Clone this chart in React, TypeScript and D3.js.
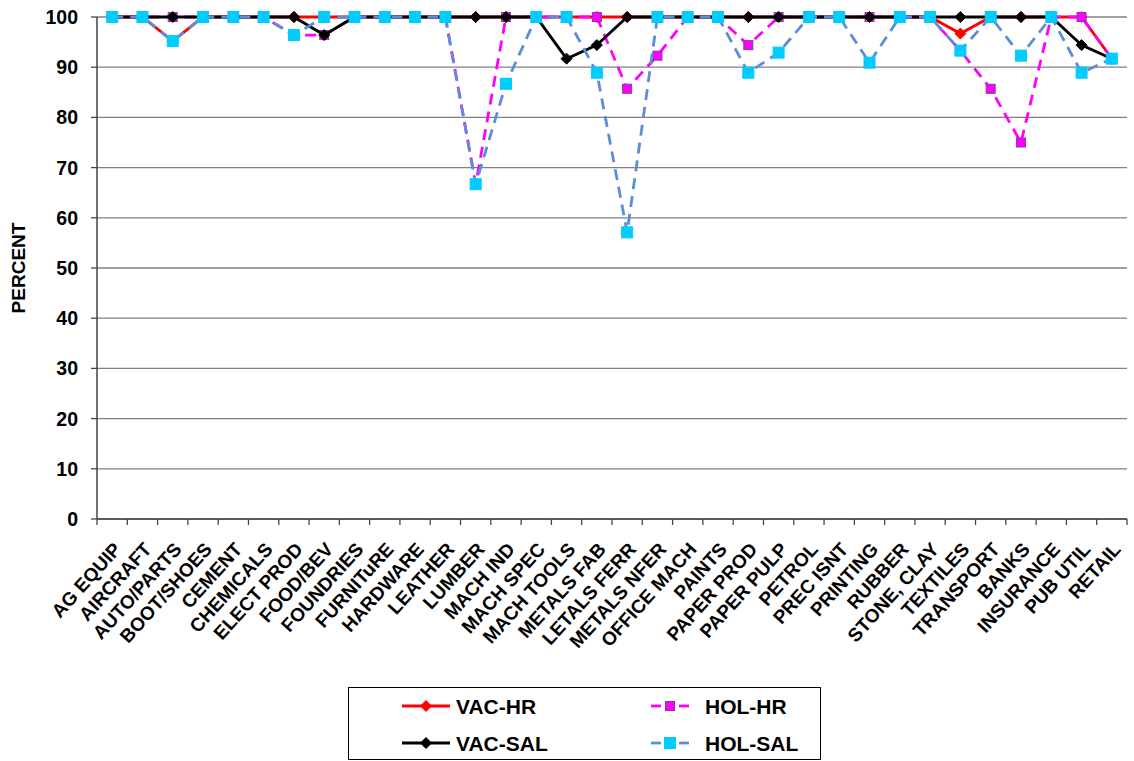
import React from "react";
import * as d3 from "d3";

const categories = [
  "AG EQUIP", "AIRCRAFT", "AUTO/PARTS", "BOOT/SHOES", "CEMENT", "CHEMICALS",
  "ELECT PROD", "FOOD/BEV", "FOUNDRIES", "FURNITuRE", "HARDWARE", "LEATHER",
  "LUMBER", "MACH IND", "MACH SPEC", "MACH TOOLS", "METALS FAB", "LETALS FERR",
  "METALS NFER", "OFFICE MACH", "PAINTS", "PAPER PROD", "PAPER PULP", "PETROL",
  "PREC ISNT", "PRINTING", "RUBBER", "STONE, CLAY", "TEXTILES", "TRANSPORT",
  "BANKS", "INSURANCE", "PUB UTIL", "RETAIL",
];

const vacHr = [
  100, 100, 95.2, 100, 100, 100, 100, 100, 100, 100, 100, 100,
  100, 100, 100, 100, 100, 100, 100, 100, 100, 100, 100, 100,
  100, 100, 100, 100, 96.7, 100, 100, 100, 100, 91.7,
];
const holHr = [
  100, 100, 100, 100, 100, 100, 96.4, 96.4, 100, 100, 100, 100,
  66.7, 100, 100, 100, 100, 85.7, 92.3, 100, 100, 94.4, 100, 100,
  100, 100, 100, 100, 93.3, 85.7, 75, 100, 100, 91.7,
];
const vacSal = [
  100, 100, 100, 100, 100, 100, 100, 96.4, 100, 100, 100, 100,
  100, 100, 100, 91.7, 94.4, 100, 100, 100, 100, 100, 100, 100,
  100, 100, 100, 100, 100, 100, 100, 100, 94.4, 91.7,
];
const holSal = [
  100, 100, 95.2, 100, 100, 100, 96.4, 100, 100, 100, 100, 100,
  66.7, 86.7, 100, 100, 88.9, 57.1, 100, 100, 100, 88.9, 92.9, 100,
  100, 90.9, 100, 100, 93.3, 100, 92.3, 100, 88.9, 91.7,
];

const yTicks = [0, 10, 20, 30, 40, 50, 60, 70, 80, 90, 100];

const FONT = "'Liberation Sans', Arial, sans-serif";

type Series = {
  name: string;
  values: number[];
  color: string;
  dash?: string;
  marker: "diamond" | "square";
  mFill: string;
  mStroke: string;
  mSize: number;
};

const series: Series[] = [
  { name: "VAC-HR", values: vacHr, color: "#FF0000", marker: "diamond", mFill: "#FF0000", mStroke: "#FF0000", mSize: 5.5 },
  { name: "HOL-HR", values: holHr, color: "#FF00FF", dash: "11,7", marker: "square", mFill: "#FF00FF", mStroke: "#7F3F98", mSize: 4.5 },
  { name: "VAC-SAL", values: vacSal, color: "#000000", marker: "diamond", mFill: "#000000", mStroke: "#000000", mSize: 5.5 },
  { name: "HOL-SAL", values: holSal, color: "#5B8DD9", dash: "11,7", marker: "square", mFill: "#00CCFF", mStroke: "#00CCFF", mSize: 5.5 },
];

function Marker({ kind, x, y, s, fill, stroke }: { kind: string; x: number; y: number; s: number; fill: string; stroke: string }) {
  if (kind === "diamond") {
    return (
      <path
        d={`M${x},${y - s} L${x + s},${y} L${x},${y + s} L${x - s},${y} Z`}
        fill={fill}
        stroke={stroke}
        strokeWidth={1}
      />
    );
  }
  return <rect x={x - s} y={y - s} width={2 * s} height={2 * s} fill={fill} stroke={stroke} strokeWidth={1} />;
}

export default function App() {
  const W = 1134;
  const H = 761;
  const left = 97;
  const right = 1127;
  const top = 17;
  const bottom = 519;

  const x = d3.scaleBand<string>().domain(categories).range([left, right]);
  const xc = (c: string) => (x(c) as number) + x.bandwidth() / 2;
  const y = d3.scaleLinear().domain([0, 100]).range([bottom, top]);

  const line = (vals: number[]) =>
    d3
      .line<number>()
      .x((_, i) => xc(categories[i]))
      .y((v) => y(v))(vals) as string;

  const legendItems = [
    { s: series[0], lx: 402, ly: 706, tx: 456 },
    { s: series[1], lx: 651, ly: 706, tx: 705 },
    { s: series[2], lx: 402, ly: 743, tx: 456 },
    { s: series[3], lx: 651, ly: 743, tx: 705 },
  ];

  return (
    <svg width={W} height={H} style={{ position: "absolute", left: 0, top: 0, background: "#fff" }}>
      <rect x={0} y={0} width={W} height={H} fill="#fff" />
      {/* gridlines */}
      {yTicks.map((t) => (
        <line key={"g" + t} x1={left} x2={right} y1={y(t)} y2={y(t)} stroke="#808080" strokeWidth={1.3} />
      ))}
      {/* y axis */}
      <line x1={left} x2={left} y1={top} y2={bottom} stroke="#444" strokeWidth={1.5} />
      {yTicks.map((t) => (
        <g key={"yt" + t}>
          <line x1={left - 6} x2={left} y1={y(t)} y2={y(t)} stroke="#444" strokeWidth={1.3} />
          <text
            x={78}
            y={y(t)}
            dy="0.36em"
            textAnchor="end"
            fontFamily={FONT}
            fontWeight="bold"
            fontSize={19.5}
          >
            {t}
          </text>
        </g>
      ))}
      {/* x axis */}
      <line x1={left} x2={right} y1={bottom} y2={bottom} stroke="#444" strokeWidth={1.5} />
      {categories.map((c, i) => (
        <line
          key={"xt" + i}
          x1={(x(c) as number)}
          x2={(x(c) as number)}
          y1={bottom}
          y2={bottom + 6}
          stroke="#444"
          strokeWidth={1.3}
        />
      ))}
      <line x1={right} x2={right} y1={bottom} y2={bottom + 6} stroke="#444" strokeWidth={1.3} />
      {categories.map((c, i) => (
        <text
          key={"xl" + i}
          transform={`translate(${xc(c) + 10},${bottom + 31}) rotate(-48)`}
          textAnchor="end"
          fontFamily={FONT}
          fontWeight="bold"
          fontSize={19}
        >
          {c}
        </text>
      ))}
      <text
        transform={`translate(25,${(top + bottom) / 2}) rotate(-90)`}
        textAnchor="middle"
        fontFamily={FONT}
        fontWeight="bold"
        fontSize={19}
      >
        PERCENT
      </text>
      {/* series */}
      {series.map((s) => (
        <g key={s.name}>
          <path d={line(s.values)} fill="none" stroke={s.color} strokeWidth={2.8} strokeDasharray={s.dash} />
          {s.values.map((v, i) => (
            <Marker
              key={i}
              kind={s.marker}
              x={xc(categories[i])}
              y={y(v)}
              s={s.mSize}
              fill={s.mFill}
              stroke={s.mStroke}
            />
          ))}
        </g>
      ))}
      {/* legend */}
      <rect x={348.5} y={687.5} width={472} height={72} fill="#fff" stroke="#000" strokeWidth={1} />
      {legendItems.map(({ s, lx, ly, tx }) => (
        <g key={"lg" + s.name}>
          {s.dash ? (
            <>
              <line x1={lx} x2={lx + 10} y1={ly} y2={ly} stroke={s.color} strokeWidth={2.8} />
              <line x1={lx + 28} x2={lx + 38} y1={ly} y2={ly} stroke={s.color} strokeWidth={2.8} />
            </>
          ) : (
            <line x1={lx} x2={lx + 48} y1={ly} y2={ly} stroke={s.color} strokeWidth={2.8} />
          )}
          <Marker
            kind={s.marker}
            x={s.dash ? lx + 19 : lx + 24}
            y={ly}
            s={s.mSize}
            fill={s.mFill}
            stroke={s.mStroke}
          />
          <text x={tx} y={ly} dy="0.36em" fontFamily={FONT} fontWeight="bold" fontSize={21}>
            {s.name}
          </text>
        </g>
      ))}
    </svg>
  );
}
